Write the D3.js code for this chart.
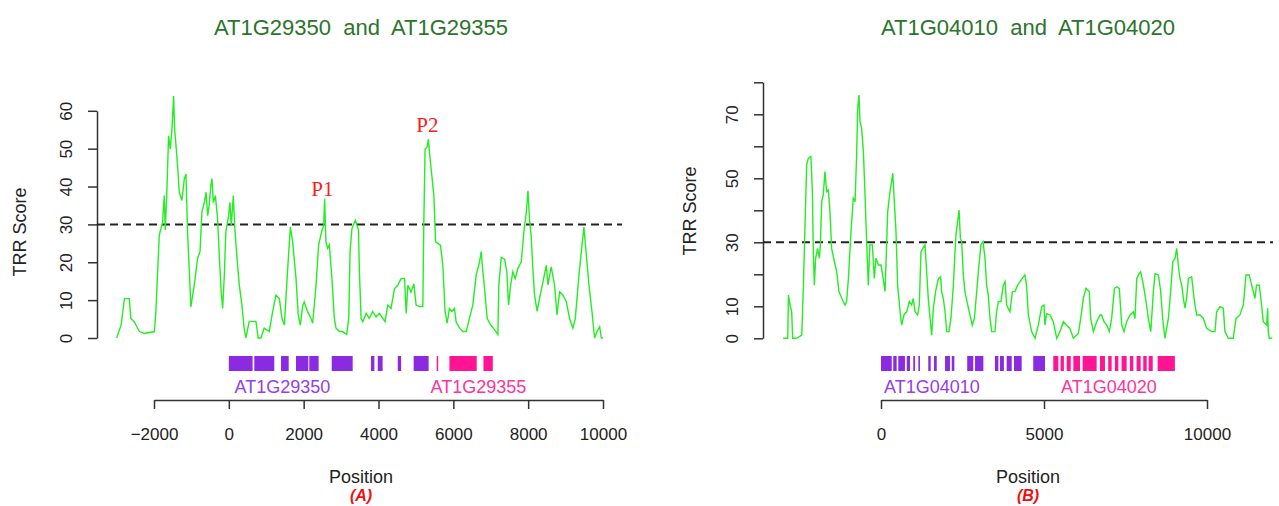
<!DOCTYPE html>
<html>
<head>
<meta charset="utf-8">
<script src="https://cdn.jsdelivr.net/npm/d3@7"></script>
<style>
  body { margin: 0; background: #fff; }
  text { font-family: "Liberation Sans", Arial, sans-serif; }
</style>
</head>
<body>
<script>
// TRR score profiles, [position, score]
const profileA = [[-3000,0],[-2880,3.4],[-2790,10.4],[-2660,10.4],[-2620,5.2],[-2530,4.3],[-2390,1.7],[-2260,1.2],[-1990,1.7],[-1950,6.9],[-1860,27.1],[-1770,30.6],[-1725,37.6],[-1700,28.5],[-1660,37.6],[-1610,53.4],[-1565,49.9],[-1520,55.2],[-1475,63.9],[-1450,55.2],[-1415,51.2],[-1370,45.5],[-1325,38.5],[-1255,36.3],[-1190,42],[-1145,43.3],[-1100,27.1],[-1055,17.5],[-1015,8.2],[-925,13.9],[-835,21],[-770,22.8],[-720,33.2],[-655,35.8],[-610,38.5],[-565,32.3],[-525,35.1],[-480,40.4],[-450,42.1],[-415,35.8],[-360,37.6],[-300,31.4],[-255,21.8],[-210,13.1],[-165,7.8],[-120,16.7],[-80,28],[-5,32.3],[30,35.8],[65,29.7],[120,37.6],[155,29.7],[205,22.8],[280,13.9],[350,8.7],[410,2.5],[455,0],[545,4.4],[725,4.4],[785,0],[860,0],[945,2.6],[1080,1.7],[1170,6.9],[1260,11.3],[1350,10.4],[1420,5.2],[1485,3.4],[1525,10.4],[1590,21],[1645,29.3],[1705,25.4],[1795,15.8],[1855,6.1],[1910,3.4],[1975,8.6],[2015,9.5],[2105,6.9],[2150,6.1],[2195,5.2],[2240,3.9],[2330,13.9],[2400,24.6],[2480,28.1],[2535,29.8],[2560,36.8],[2595,25.4],[2640,23.7],[2685,24.6],[2755,15.8],[2820,5.2],[2865,2.6],[2955,1.7],[3040,1.7],[3150,0.9],[3205,5.2],[3240,22.8],[3290,28.9],[3380,31.1],[3465,28.5],[3490,17.5],[3535,5.2],[3580,4.3],[3670,6.5],[3755,5.2],[3845,7],[3935,5.6],[4025,6.5],[4115,5.2],[4175,4.3],[4250,8.7],[4335,7.8],[4425,13],[4515,13.9],[4605,15.7],[4695,15.7],[4740,6.5],[4785,13.9],[4870,12.1],[4945,14.3],[5005,8.7],[5095,8.3],[5185,8.3],[5210,29.7],[5245,49.9],[5300,50.4],[5335,52.5],[5370,48.2],[5425,42.9],[5480,37.6],[5525,25.4],[5585,25],[5655,24.5],[5720,19.2],[5780,7],[5835,3.9],[5895,7.8],[5960,7],[6030,7.8],[6075,4.3],[6165,2.6],[6255,1.7],[6345,1.7],[6430,5.2],[6520,8.7],[6610,16.6],[6700,20.1],[6745,22.8],[6790,17.5],[6835,13],[6905,5.2],[6995,3.5],[7100,2.2],[7190,0.9],[7215,13.9],[7280,21.3],[7370,20.8],[7430,17.5],[7475,8.7],[7530,13.9],[7590,17.5],[7655,15.7],[7725,18.4],[7815,20.1],[7885,28],[7950,33.2],[7995,38.9],[8035,31.5],[8080,27.1],[8125,18.4],[8170,11.4],[8240,7],[8305,10.5],[8395,14.8],[8485,19.2],[8530,14],[8615,18.8],[8705,14],[8770,6.1],[8840,12.2],[8930,11.3],[9020,9.6],[9105,5.2],[9195,2.6],[9260,5.2],[9350,15.8],[9420,22.8],[9490,29.3],[9555,21.8],[9625,14],[9705,7],[9775,0],[9840,1.7],[9910,3],[9955,0],[10000,0]];

const profileB = [[-3000,0],[-2860,0],[-2840,13.5],[-2790,10.4],[-2740,8.3],[-2710,0],[-2590,0],[-2430,1],[-2380,16.6],[-2330,35.4],[-2280,54.2],[-2230,56.2],[-2150,56.8],[-2105,45.8],[-2075,27],[-2045,16.6],[-2005,25],[-1945,28.1],[-1890,25],[-1860,29.2],[-1820,42.7],[-1770,44.8],[-1720,52.1],[-1665,45.8],[-1615,46.3],[-1565,39.5],[-1515,28.1],[-1430,24],[-1360,20.8],[-1290,14.6],[-1205,12.5],[-1105,10.4],[-1055,11.5],[-1000,18.7],[-920,33.3],[-850,43.8],[-795,42.7],[-745,58.3],[-715,71.9],[-675,76],[-645,67.7],[-595,65.6],[-540,58.3],[-490,44.8],[-440,30.2],[-390,16.6],[-340,29.2],[-265,29.2],[-205,18.7],[-155,25],[-80,22.9],[0,22.9],[50,19.8],[125,14.6],[205,39.5],[275,45.8],[325,49],[360,51.6],[410,42.7],[460,33.3],[510,16.6],[585,8.3],[635,4.1],[705,7.3],[790,8.3],[870,11.5],[940,10.4],[990,12.5],[1045,8.3],[1125,7.3],[1175,10.4],[1225,27],[1280,28.1],[1350,29.2],[1400,20.8],[1450,12.5],[1505,6.2],[1555,1],[1605,9.4],[1675,14.6],[1760,18.7],[1830,19.2],[1860,14.6],[1910,12.5],[1965,8.3],[2015,2.1],[2085,2.1],[2145,6.2],[2220,16.6],[2270,27],[2300,32.3],[2350,36.5],[2395,40.1],[2435,31.2],[2475,30.2],[2525,19.8],[2575,14.6],[2660,10.4],[2730,7.3],[2800,4.1],[2865,6.2],[2935,14.6],[3005,22.9],[3065,29.2],[3130,30.2],[3190,25],[3240,16.6],[3290,13.5],[3345,6.2],[3395,2.1],[3495,2.1],[3545,8.3],[3600,11.5],[3680,11.5],[3750,16.6],[3805,17.7],[3855,10.4],[3955,8.3],[4030,14.6],[4110,14.6],[4190,16.6],[4265,17.7],[4365,19.2],[4415,19.8],[4465,16.6],[4520,7.3],[4620,2.1],[4725,0],[4825,4.1],[4930,9.9],[5000,10.4],[5030,4.1],[5080,7.7],[5185,7.3],[5285,5.2],[5390,0],[5490,2.1],[5595,5.2],[5695,4.1],[5795,3.1],[5900,0],[6055,1.5],[6155,8.3],[6205,12.5],[6290,15.6],[6390,14.6],[6430,6.2],[6515,2.1],[6615,5.2],[6720,7.3],[6770,7.3],[6840,5.2],[6925,4.1],[7005,2.1],[7075,6.2],[7160,15.6],[7230,16.1],[7310,15.6],[7385,4.1],[7455,2.1],[7535,5.2],[7640,7.3],[7740,8.3],[7790,6.2],[7845,18.7],[7895,19.8],[7965,20.8],[8050,16.6],[8130,11.5],[8200,6.2],[8275,2.1],[8355,14.6],[8405,20.2],[8510,19.8],[8580,14.6],[8640,6.2],[8710,0],[8815,6.2],[8885,14.6],[8950,24],[9020,25],[9070,28.1],[9120,22.9],[9170,18.7],[9225,16.6],[9275,12.5],[9325,9.4],[9375,12.5],[9430,18.7],[9530,19.2],[9580,14.6],[9630,10.4],[9685,7.3],[9785,7.3],[9890,6.2],[9990,3.1],[10145,2.1],[10245,2.1],[10295,8.3],[10400,9.9],[10500,9.4],[10550,2.1],[10655,0],[10805,0],[10890,6.2],[11010,7.3],[11115,10.4],[11195,19.8],[11295,19.8],[11370,16.6],[11420,14.6],[11470,12.5],[11520,16.6],[11605,16.6],[11675,10.4],[11725,5.2],[11830,4.1],[11860,9.4],[11880,2.1],[11910,0],[12000,0]];

// exon blocks [start, end]
const exonsA1 = [[0,635],[680,1215],[1395,1600],[1795,2125],[2150,2400],[2750,3310],[3800,3890],[3980,4110],[4515,4605],[4940,5340]];
const exonsA2 = [[5555,5595],[5895,6625],[6805,7055]];
const exonsB1 = [[0,330],[375,480],[530,735],[790,890],[990,1045],[1145,1195],[1450,1525],[1625,1710],[1965,2115],[2170,2250],[2645,2830],[2885,3140],[3495,3600],[3650,3770],[3855,4010],[4080,4315],[4670,5030]];
const exonsB2 = [[5285,5440],[5510,5610],[5695,5820],[5900,6105],[6185,6615],[6715,6870],[6970,7075],[7175,7280],[7380,7535],[7635,7740],[7840,7965],[8045,8150],[8210,8335],[8485,9015]];

const titles = ["AT1G29350  and  AT1G29355", "AT1G04010  and  AT1G04020"];
const geneNamesA = ["AT1G29350", "AT1G29355"];
const geneNamesB = ["AT1G04010", "AT1G04020"];
const geneLabelPosA = [1430, 6670];
const geneLabelPosB = [1564, 6993];
const xTicksA = [-2000, 0, 2000, 4000, 6000, 8000, 10000];
const xTicksB = [0, 5000, 10000];
const yTicksA = [0, 10, 20, 30, 40, 50, 60];
const yTicksB = [0, 10, 20, 30, 40, 50, 60, 70, 80];
const yLabelsB = [0, 10, 30, 50, 70];
const threshold = 30;
const peaks = [{name: "P1", pos: 2500, score: 37.6}, {name: "P2", pos: 5308, score: 54.5}];

const W = 1279, H = 506;
const svg = d3.select("body").append("svg").attr("width", W).attr("height", H);

const axisColor = "#333";
const purple = "#8a2be2", pink = "#ff1493";

function panel(cfg) {
    const x = d3.scaleLinear().domain(cfg.xd).range(cfg.xr);
    const y = d3.scaleLinear().domain(cfg.yd).range(cfg.yr);
    const g = svg.append("g");

    // title
    g.append("text").attr("x", cfg.cx).attr("y", 35)
        .attr("text-anchor", "middle").attr("xml:space", "preserve")
        .style("font-size", "22px").style("fill", "#2a752a")
        .text(cfg.title);

    // y axis
    const ya = g.append("g").attr("transform", "translate(" + cfg.yAxisX + ",0)")
        .call(d3.axisLeft(y).tickValues(cfg.yTicks).tickSize(9).tickSizeOuter(0)
            .tickFormat(d => cfg.yLabels.indexOf(d) >= 0 ? d : ""));
    ya.select(".domain").attr("stroke", axisColor).attr("stroke-width", 1.5);
    ya.selectAll(".tick line").attr("stroke", axisColor).attr("stroke-width", 1.5);
    ya.selectAll(".tick text")
        .attr("transform", "rotate(-90)").attr("x", 0).attr("y", -25).attr("dy", 0)
        .attr("text-anchor", "middle")
        .style("font-size", "17px").style("fill", "#222");

    g.append("text")
        .attr("transform", "translate(" + cfg.yLabX + "," + cfg.yLabY + ") rotate(-90)")
        .attr("text-anchor", "middle").style("font-size", "18px").style("fill", "#222")
        .text("TRR Score");

    // threshold
    g.append("line")
        .attr("x1", cfg.yAxisX).attr("x2", cfg.dashEnd)
        .attr("y1", y(threshold)).attr("y2", y(threshold))
        .attr("stroke", "#222").attr("stroke-width", 2).attr("stroke-dasharray", "8,5");

    // profile
    const line = d3.line().x(d => x(d[0])).y(d => y(d[1])).curve(d3.curveLinear);
    g.append("path").datum(cfg.profile)
        .attr("d", line).attr("fill", "none")
        .attr("stroke", "#22ee22").attr("stroke-width", 1.4);

    // exons
    [[cfg.ex1, purple], [cfg.ex2, pink]].forEach(function(e) {
        g.selectAll(null).data(e[0]).enter().append("rect")
            .attr("x", d => x(d[0])).attr("width", d => Math.max(1, x(d[1]) - x(d[0])))
            .attr("y", 356).attr("height", 15).attr("fill", e[1]);
    });
    g.selectAll(null).data(cfg.genes).enter().append("text")
        .attr("x", (d, i) => x(cfg.genePos[i])).attr("y", 393)
        .attr("text-anchor", "middle").style("font-size", "18px")
        .style("fill", (d, i) => i == 0 ? "#9440e6" : "#ff3399")
        .text(d => d);

    // x axis
    const xa = g.append("g").attr("transform", "translate(0,400)")
        .call(d3.axisBottom(x).tickValues(cfg.xTicks).tickSize(9).tickSizeOuter(0)
            .tickFormat(d3.format("d")));
    xa.select(".domain").attr("stroke", axisColor).attr("stroke-width", 1.5);
    xa.selectAll(".tick line").attr("stroke", axisColor).attr("stroke-width", 1.5);
    xa.selectAll(".tick text").attr("y", 40).attr("dy", 0)
        .style("font-size", "17px").style("fill", "#222");

    g.append("text").attr("x", cfg.cx).attr("y", 483)
        .attr("text-anchor", "middle").style("font-size", "18px").style("fill", "#222")
        .text("Position");
    g.append("text").attr("x", cfg.cx).attr("y", 501)
        .attr("text-anchor", "middle").style("font-size", "16px")
        .style("font-weight", "bold").style("font-style", "italic").style("fill", "#ee1111")
        .text(cfg.tag);

    return {x: x, y: y, g: g};
}

const pa = panel({
    xd: [-2000, 10000], xr: [154, 603], yd: [0, 60], yr: [338, 110.8],
    cx: 361, title: titles[0], yAxisX: 97, yTicks: yTicksA, yLabels: yTicksA,
    yLabX: 26, yLabY: 232, dashEnd: 622, profile: profileA,
    ex1: exonsA1, ex2: exonsA2, genes: geneNamesA, genePos: geneLabelPosA,
    xTicks: xTicksA, tag: "(A)"
});

panel({
    xd: [0, 10000], xr: [881, 1207], yd: [0, 80], yr: [338.3, 82.3],
    cx: 1028, title: titles[1], yAxisX: 763, yTicks: yTicksB, yLabels: yLabelsB,
    yLabX: 696, yLabY: 211, dashEnd: 1273, profile: profileB,
    ex1: exonsB1, ex2: exonsB2, genes: geneNamesB, genePos: geneLabelPosB,
    xTicks: xTicksB, tag: "(B)"
});

// peak labels
pa.g.selectAll(null).data(peaks).enter().append("text")
    .attr("x", d => pa.x(d.pos)).attr("y", d => pa.y(d.score))
    .attr("text-anchor", "middle")
    .style("font-family", "'Liberation Serif', 'DejaVu Serif', serif")
    .style("font-size", "21px").style("fill", "#ff1a1a")
    .text(d => d.name);
</script>
</body>
</html>
